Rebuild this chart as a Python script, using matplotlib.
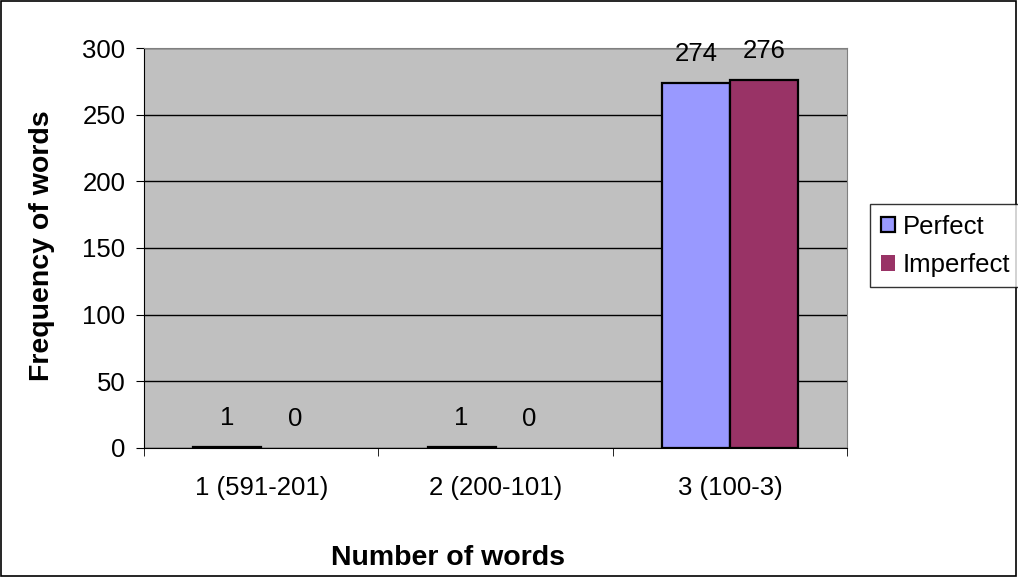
import matplotlib.pyplot as plt
from matplotlib.patches import Rectangle
import numpy as np

# word frequency per length band
categories = ["1 (591-201)", "2 (200-101)", "3 (100-3)"]
perfect = [1, 1, 274]
imperfect = [0, 0, 276]
series_names = ["Perfect", "Imperfect"]

plt.rcParams['font.family'] = ['Liberation Sans', 'DejaVu Sans']
FS = 18.5

fig = plt.figure(figsize=(10.18, 5.77), dpi=100)
fig.patches.append(Rectangle((0.0005, 0.001), 0.998, 0.997, transform=fig.transFigure,
                             fill=False, edgecolor='black', linewidth=1.2))

ax = fig.add_axes([0.1415, 0.2236, 0.6906, 0.6932])
ax.set_facecolor('#C0C0C0')

x = np.arange(len(categories))
w = 0.29
b1 = ax.bar(x - w / 2, perfect, w, color='#9999FF', edgecolor='black', linewidth=1.6,
            label=series_names[0], zorder=3)
b2 = ax.bar(x + w / 2, imperfect, w, color='#993366', edgecolor='black', linewidth=1.6,
            label=series_names[1], zorder=3)
# zero-height bars show only their label
for bar, v in zip(b2, imperfect):
    if v == 0:
        bar.set_linewidth(0)

ax.bar_label(b1, padding=12, fontsize=FS)
ax.bar_label(b2, padding=12, fontsize=FS)

ax.set_xlim(-0.5, len(categories) - 0.5)
ax.set_ylim(0, 300)
ax.set_yticks(range(0, 301, 50))
ax.yaxis.grid(True, color='black', linewidth=1, zorder=1)
ax.set_axisbelow(True)

ax.set_xticks(x)
ax.set_xticklabels(categories)
ax.set_xticks(np.arange(-0.5, len(categories)), minor=True)
ax.tick_params(axis='x', which='major', length=0, pad=20, labelsize=FS)
ax.tick_params(axis='x', which='minor', length=5.5, direction='out', color='black')
ax.tick_params(axis='y', length=5.5, direction='out', labelsize=FS, pad=8)

for side in ['top', 'right']:
    ax.spines[side].set_color('#808080')
for side in ['left', 'bottom']:
    ax.spines[side].set_color('black')

fig.text(0.041, 0.574, "Frequency of words", rotation=90, ha='center', va='center',
         fontsize=20.5, fontweight='bold')
fig.text(0.44, 0.033, "Number of words", ha='center', va='center',
         fontsize=20.5, fontweight='bold')

leg = fig.legend(loc='center left', bbox_to_anchor=(0.855, 0.574), fontsize=FS,
                 handlelength=0.55, handleheight=0.55, handletextpad=0.3,
                 borderpad=0.4, labelspacing=0.55, frameon=True, fancybox=False,
                 borderaxespad=0)
leg.get_frame().set_edgecolor('black')
leg.get_frame().set_linewidth(1)

plt.savefig("out.png", dpi=100)
